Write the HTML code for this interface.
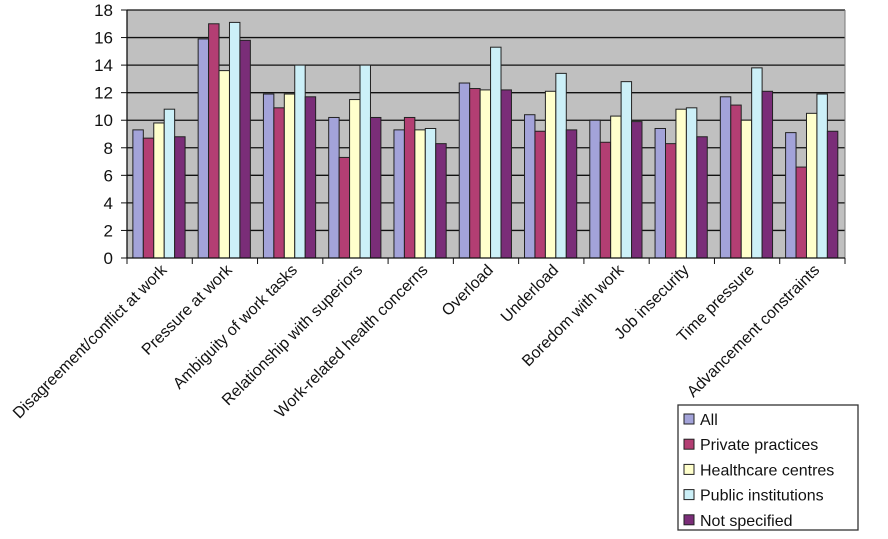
<!DOCTYPE html>
<html><head><meta charset="utf-8"><style>
html,body{margin:0;padding:0;background:#fff;}
svg{display:block;font-family:"Liberation Sans",Arial,sans-serif;}
</style></head><body>
<svg id="chart" width="888" height="539" viewBox="0 0 888 539"></svg>
<script>
const categories=["Disagreement/conflict at work","Pressure at work","Ambiguity of work tasks","Relationship with superiors","Work-related health concerns","Overload","Underload","Boredom with work","Job insecurity","Time pressure","Advancement constraints"];
const seriesNames=["All","Private practices","Healthcare centres","Public institutions","Not specified"];
const allValues=[9.3,15.9,11.9,10.2,9.3,12.7,10.4,10.0,9.4,11.7,9.1];
const privateValues=[8.7,17.0,10.9,7.3,10.2,12.3,9.2,8.4,8.3,11.1,6.6];
const healthValues=[9.8,13.6,11.9,11.5,9.3,12.2,12.1,10.3,10.8,10.0,10.5];
const publicValues=[10.8,17.1,14.0,14.0,9.4,15.3,13.4,12.8,10.9,13.8,11.9];
const notSpecValues=[8.8,15.8,11.7,10.2,8.3,12.2,9.3,9.9,8.8,12.1,9.2];
const yTicks=[0,2,4,6,8,10,12,14,16,18];
const colors=["#a3a3d9","#b33e73","#ffffcc","#ccf0f8","#7a2d78"];
const series=[allValues,privateValues,healthValues,publicValues,notSpecValues];
const NS="http://www.w3.org/2000/svg";
const svg=document.getElementById('chart');
const L=127,R=845,T=10,B=258,yMax=18;
const y=v=>B-(v/yMax)*(B-T);
const bw=(R-L)/categories.length;
const x=i=>L+i*bw;
function mk(t,a,p){const e=document.createElementNS(NS,t);for(const k in a)e.setAttribute(k,a[k]);(p||svg).appendChild(e);return e;}
let e=mk('rect',{x:L,y:T,width:R-L,height:B-T,fill:'#c0c0c0'});


yTicks.forEach(t=>{
 if(t>0){const g=mk('line',{x1:L,x2:R,y1:y(t),y2:y(t),stroke:'#111','stroke-width':1.3});
 
 }
 const tk=mk('line',{x1:L-6,x2:L,y1:y(t),y2:y(t),stroke:'#111'});
 
 
 const tl=mk('text',{x:113,y:y(t)+6,'text-anchor':'end','font-size':17,fill:'#111'});
 tl.textContent=t;
 
 
});
const rb=mk('line',{x1:R,x2:R,y1:T,y2:B,stroke:'#777'});


const barW=bw*0.16,gStart=bw*0.09;
categories.forEach((c,i)=>{
 series.forEach((s,j)=>{
  const b=mk('rect',{x:x(i)+gStart+j*barW,y:y(s[i]),width:barW,height:B-y(s[i]),fill:colors[j],stroke:'#222','stroke-width':1});
  
  
 });
 const tk=mk('line',{x1:x(i),x2:x(i),y1:B,y2:B+6,stroke:'#111'});
 
 
 const cx=x(i)+bw/2+8,cy=271;
 const tl=mk('text',{x:cx,y:cy,'text-anchor':'end','font-size':16,fill:'#111',transform:'rotate(-45 '+cx+' '+cy+')'});
 tl.textContent=c;
 
 
});
const tk2=mk('line',{x1:R,x2:R,y1:B,y2:B+6,stroke:'#111'});


const ax=mk('line',{x1:L,x2:R,y1:B,y2:B,stroke:'#111','stroke-width':1.3});


const ay=mk('line',{x1:L,x2:L,y1:T,y2:B,stroke:'#111','stroke-width':1.3});


const lg=mk('g',{});


mk('rect',{x:678,y:405,width:180,height:125,fill:'#fff',stroke:'#333','stroke-width':1.3},lg);
seriesNames.forEach((n,j)=>{
 const yy=419+j*25.2;
 const it=mk('g',{},lg);
 
 
 mk('rect',{x:684,y:yy-5,width:10,height:10,fill:colors[j],stroke:'#222'},it);
 const t=mk('text',{x:700,y:yy+6,'font-size':16,fill:'#111'},it);
 t.textContent=n;
});
</script>
</body></html>
